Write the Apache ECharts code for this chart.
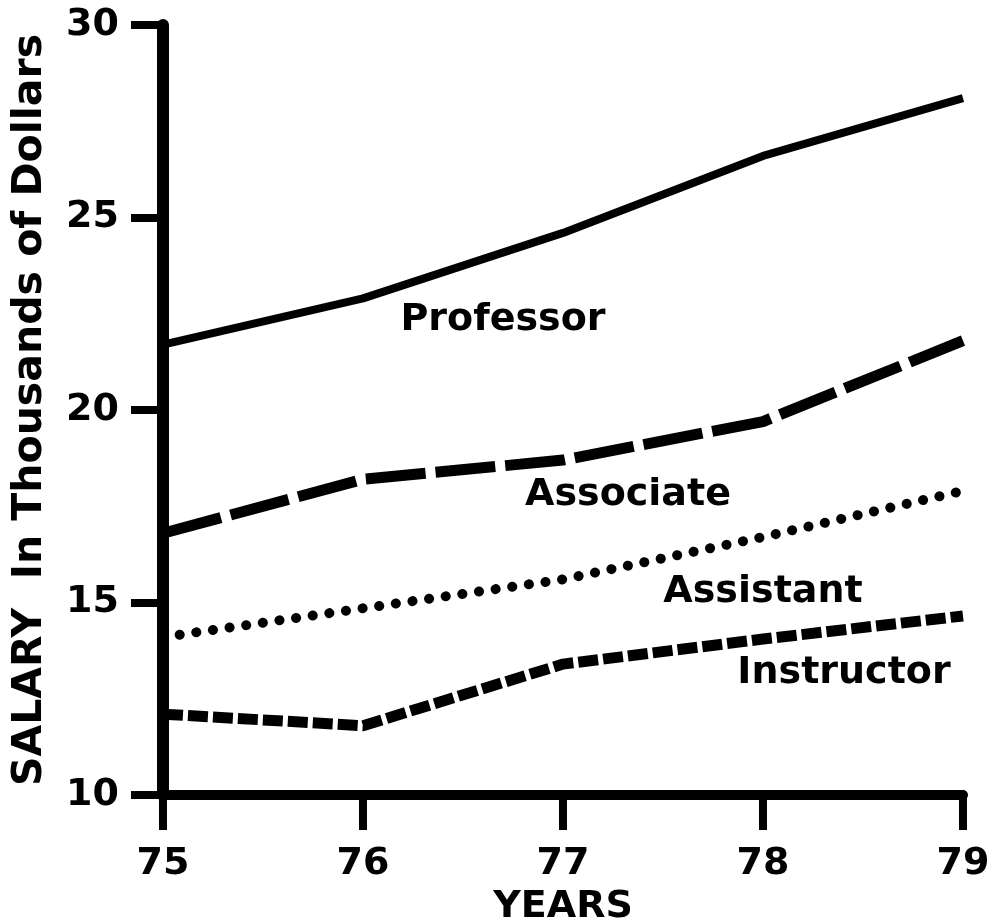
<!DOCTYPE html>
<html>
<head>
<meta charset="utf-8">
<script src="https://cdn.jsdelivr.net/npm/echarts@6/dist/echarts.min.js"></script>
<style>
  html, body { margin: 0; padding: 0; background: #fff; }
  #chart { width: 987px; height: 918px; }
</style>
</head>
<body>
<div id="chart"></div>
<script>
const years = ['75', '76', '77', '78', '79']
const professor = [21.7, 22.9, 24.6, 26.6, 28.1]
const associate = [16.8, 18.2, 18.7, 19.7, 21.8]
const assistant = [14.1, 14.85, 15.6, 16.7, 17.9]
const instructor = [12.1, 11.8, 13.4, 14.05, 14.65]

const font = 'DejaVu Sans'
const chart = echarts.init(document.getElementById('chart'))

const lineSeries = (name, data, width, dash, cap) => ({
  name: name,
  type: 'line',
  data: data,
  showSymbol: false,
  lineStyle: { color: '#000', width: width, type: dash, cap: cap || 'butt' }
})

// curve labels, placed by their centre
const label = (text, x, y) => ({
  type: 'text',
  x: x,
  y: y,
  style: {
    text: text,
    fill: '#000',
    font: 'bold 38px "DejaVu Sans"',
    textAlign: 'center',
    textVerticalAlign: 'middle'
  }
})

const option = {
  animation: false,
  backgroundColor: '#fff',
  grid: { left: 163, right: 24, top: 25, bottom: 123, containLabel: false, outerBoundsMode: 'none' },
  xAxis: {
    type: 'category',
    data: years,
    boundaryGap: false,
    name: 'YEARS',
    nameLocation: 'middle',
    nameGap: 82,
    nameTextStyle: { color: '#000', fontFamily: font, fontWeight: 'bold', fontSize: 38 },
    axisLine: { lineStyle: { color: '#000', width: 10 } },
    axisTick: { alignWithLabel: true, length: 35, lineStyle: { color: '#000', width: 8 } },
    axisLabel: { color: '#000', fontFamily: font, fontWeight: 'bold', fontSize: 38, margin: 50 },
    splitLine: { show: false }
  },
  yAxis: {
    type: 'value',
    min: 10,
    max: 30,
    interval: 5,
    name: 'SALARY  In Thousands of Dollars',
    nameLocation: 'middle',
    nameGap: 112,
    nameTextStyle: { color: '#000', fontFamily: font, fontWeight: 'bold', fontSize: 41 },
    axisLine: { show: true, lineStyle: { color: '#000', width: 12 } },
    axisTick: { show: true, length: 32, lineStyle: { color: '#000', width: 8 } },
    axisLabel: { color: '#000', fontFamily: font, fontWeight: 'bold', fontSize: 38, margin: 44 },
    splitLine: { show: false }
  },
  series: [
    lineSeries('Professor', professor, 8, 'solid'),
    lineSeries('Associate', associate, 11, [60, 10]),
    lineSeries('Assistant', assistant, 10, [0.1, 16.7], 'round'),
    lineSeries('Instructor', instructor, 11, [20, 5])
  ],
  graphic: [
    label('Professor', 503, 320),
    label('Associate', 628, 495),
    label('Assistant', 763, 592),
    label('Instructor', 844, 673)
  ]
}

chart.setOption(option)
</script>
</body>
</html>
